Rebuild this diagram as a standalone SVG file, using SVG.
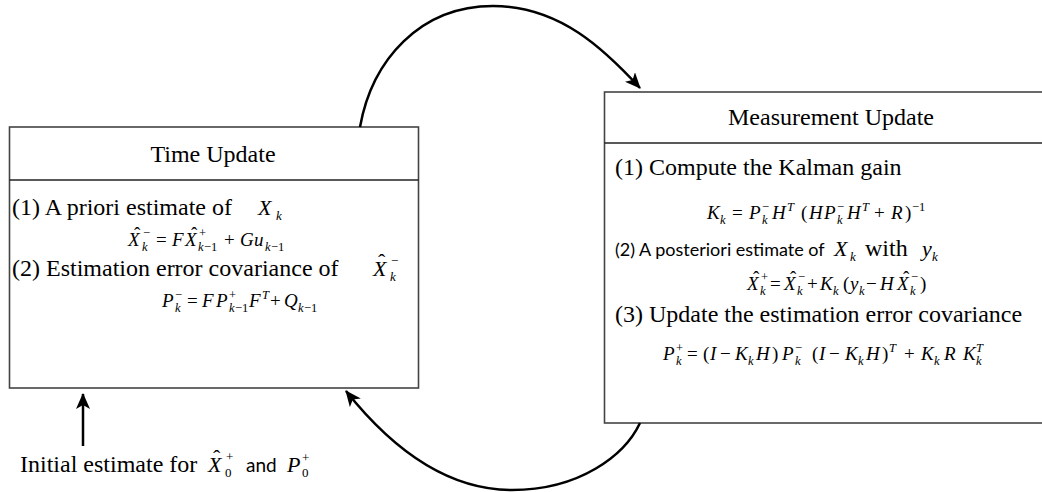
<svg xmlns="http://www.w3.org/2000/svg" width="1042" height="492" viewBox="0 0 1042 492">
<style>
.box{fill:#fff;stroke:#444;stroke-width:1.6}
.div{stroke:#222;stroke-width:1.4}
.t{font-family:"Liberation Serif",serif;font-size:24px;fill:#000}
.sans{font-family:Lato,"Liberation Sans",sans-serif;font-size:18px;fill:#000}
.m{font-family:"Liberation Serif",serif;font-size:19px;font-style:italic;fill:#000}
.mi{font-family:"Liberation Serif",serif;font-size:22px;font-style:italic;fill:#000}
.n{font-style:normal}
.s{font-size:12.5px}
.s2{font-size:13px}
.conn{fill:none;stroke:#000;stroke-width:2.5}
</style>
<defs>
<marker id="ah" viewBox="0 0 16 14" refX="15" refY="7" markerWidth="16" markerHeight="14" markerUnits="userSpaceOnUse" orient="auto">
<path d="M0,0 L16,7 L0,14 L4,7 z" fill="#000"/>
</marker>
</defs>

<g id="time-update">
<rect class="box" x="9.5" y="127" width="409" height="261"/>
<line class="div" x1="9.5" y1="180" x2="418.5" y2="180"/>
<text class="t" x="213" y="162" text-anchor="middle">Time Update</text>
<text class="t" x="12" y="215">(1) A priori estimate of</text>
<text class="mi"><tspan x="258" y="215">X</tspan><tspan class="s2" x="276" y="220">k</tspan></text>
<text class="m"><tspan x="128" y="246">X</tspan><tspan class="n" x="134" y="240">ˆ</tspan><tspan class="s" x="142" y="251">k</tspan><tspan class="s n" x="143" y="237">−</tspan><tspan class="n" x="156" y="246">=</tspan><tspan x="172" y="246">F</tspan><tspan x="185" y="246">X</tspan><tspan class="n" x="191" y="240">ˆ</tspan><tspan class="s n" x="199" y="237">+</tspan><tspan class="s" x="198" y="251">k</tspan><tspan class="s n" x="204" y="251">−1</tspan><tspan class="n" x="224" y="246">+</tspan><tspan x="240" y="246">G</tspan><tspan x="254" y="246">u</tspan><tspan class="s" x="265" y="251">k</tspan><tspan class="s n" x="271" y="251">−1</tspan></text>
<text class="t" x="12" y="276">(2) Estimation error covariance of</text>
<text class="mi"><tspan x="373" y="276">X</tspan><tspan class="n" x="378" y="269">ˆ</tspan><tspan class="s2" x="390" y="281">k</tspan><tspan class="s2 n" x="391" y="265">−</tspan></text>
<text class="m"><tspan x="162" y="307">P</tspan><tspan class="s" x="175" y="312">k</tspan><tspan class="s n" x="175" y="299">−</tspan><tspan class="n" x="187" y="307">=</tspan><tspan x="202" y="307">F</tspan><tspan x="216" y="307">P</tspan><tspan class="s" x="229" y="312">k</tspan><tspan class="s n" x="235" y="312">−1</tspan><tspan class="s n" x="229" y="299">+</tspan><tspan x="249" y="307">F</tspan><tspan class="s" x="262" y="299">T</tspan><tspan class="n" x="270" y="307">+</tspan><tspan x="284" y="307">Q</tspan><tspan class="s" x="298" y="312">k</tspan><tspan class="s n" x="304" y="312">−1</tspan></text>
</g>

<g id="measurement-update">
<rect class="box" x="604.5" y="92" width="450" height="331"/>
<line class="div" x1="604.5" y1="143" x2="1042" y2="143"/>
<text class="t" x="831" y="125" text-anchor="middle">Measurement Update</text>
<text class="t" x="615" y="175">(1) Compute the Kalman gain</text>
<text class="m"><tspan x="707" y="219">K</tspan><tspan class="s" x="720" y="224">k</tspan><tspan class="n" x="732" y="219">=</tspan><tspan x="749" y="219">P</tspan><tspan class="s" x="762" y="224">k</tspan><tspan class="s n" x="762" y="211">−</tspan><tspan x="772" y="219">H</tspan><tspan class="s" x="787" y="211">T</tspan><tspan class="n" x="801" y="219">(</tspan><tspan x="809" y="219">H</tspan><tspan x="824" y="219">P</tspan><tspan class="s" x="837" y="224">k</tspan><tspan class="s n" x="837" y="211">−</tspan><tspan x="847" y="219">H</tspan><tspan class="s" x="862" y="211">T</tspan><tspan class="n" x="874" y="219">+</tspan><tspan x="891" y="219">R</tspan><tspan class="n" x="905" y="219">)</tspan><tspan class="s n" x="912" y="211">−1</tspan></text>
<text class="sans" x="615" y="256">(2) A posteriori estimate of</text>
<text class="mi"><tspan x="834" y="256">X</tspan><tspan class="s2" x="850" y="261">k</tspan></text>
<text class="t" x="865" y="256">with</text>
<text class="mi"><tspan x="922" y="256">y</tspan><tspan class="s2" x="932" y="261">k</tspan></text>
<text class="m"><tspan x="747" y="290">X</tspan><tspan class="n" x="753" y="284">ˆ</tspan><tspan class="s" x="760" y="295">k</tspan><tspan class="s n" x="761" y="281">+</tspan><tspan class="n" x="770" y="290">=</tspan><tspan x="784" y="290">X</tspan><tspan class="n" x="790" y="284">ˆ</tspan><tspan class="s" x="797" y="295">k</tspan><tspan class="s n" x="798" y="281">−</tspan><tspan class="n" x="807" y="290">+</tspan><tspan x="820" y="290">K</tspan><tspan class="s" x="833" y="295">k</tspan><tspan class="n" x="843" y="290">(</tspan><tspan x="850" y="290">y</tspan><tspan class="s" x="859" y="295">k</tspan><tspan class="n" x="866" y="290">−</tspan><tspan x="880" y="290">H</tspan><tspan x="897" y="290">X</tspan><tspan class="n" x="903" y="284">ˆ</tspan><tspan class="s" x="910" y="295">k</tspan><tspan class="s n" x="911" y="281">−</tspan><tspan class="n" x="920" y="290">)</tspan></text>
<text class="t" x="615" y="322">(3) Update the estimation error covariance</text>
<text class="m"><tspan x="663" y="360">P</tspan><tspan class="s" x="676" y="365">k</tspan><tspan class="s n" x="676" y="352">+</tspan><tspan class="n" x="687" y="360">=</tspan><tspan class="n" x="703" y="360">(</tspan><tspan x="710" y="360">I</tspan><tspan class="n" x="720" y="360">−</tspan><tspan x="735" y="360">K</tspan><tspan class="s" x="748" y="365">k</tspan><tspan x="756" y="360">H</tspan><tspan class="n" x="772" y="360">)</tspan><tspan x="782" y="360">P</tspan><tspan class="s" x="795" y="365">k</tspan><tspan class="s n" x="795" y="352">−</tspan><tspan class="n" x="812" y="360">(</tspan><tspan x="819" y="360">I</tspan><tspan class="n" x="829" y="360">−</tspan><tspan x="845" y="360">K</tspan><tspan class="s" x="858" y="365">k</tspan><tspan x="866" y="360">H</tspan><tspan class="n" x="882" y="360">)</tspan><tspan class="s" x="889" y="352">T</tspan><tspan class="n" x="904" y="360">+</tspan><tspan x="921" y="360">K</tspan><tspan class="s" x="934" y="365">k</tspan><tspan x="944" y="360">R</tspan><tspan x="963" y="360">K</tspan><tspan class="s" x="976" y="365">k</tspan><tspan class="s" x="976" y="352">T</tspan></text>
</g>

<g id="initial-estimate">
<text class="t" x="20" y="472">Initial estimate for</text>
<text class="mi"><tspan x="208" y="472">X</tspan><tspan class="n" x="213" y="465">ˆ</tspan><tspan class="s2 n" x="225" y="477">0</tspan><tspan class="s2 n" x="226" y="461">+</tspan></text>
<text class="sans" x="246" y="472" style="font-size:19px">and</text>
<text class="mi"><tspan x="287" y="472">P</tspan><tspan class="s2 n" x="302" y="477">0</tspan><tspan class="s2 n" x="302" y="462">+</tspan></text>
</g>

<g id="connectors">
<path class="conn" d="M360,127 C372,60 420,6 493,6 C560,6 605,50 640,88" marker-end="url(#ah)"/>
<path class="conn" d="M640,423 C625,455 580,490 512,490 C440,490 385,440 346,391" marker-end="url(#ah)"/>
<path class="conn" d="M83,446 L83,394" marker-end="url(#ah)"/>
</g>
</svg>
